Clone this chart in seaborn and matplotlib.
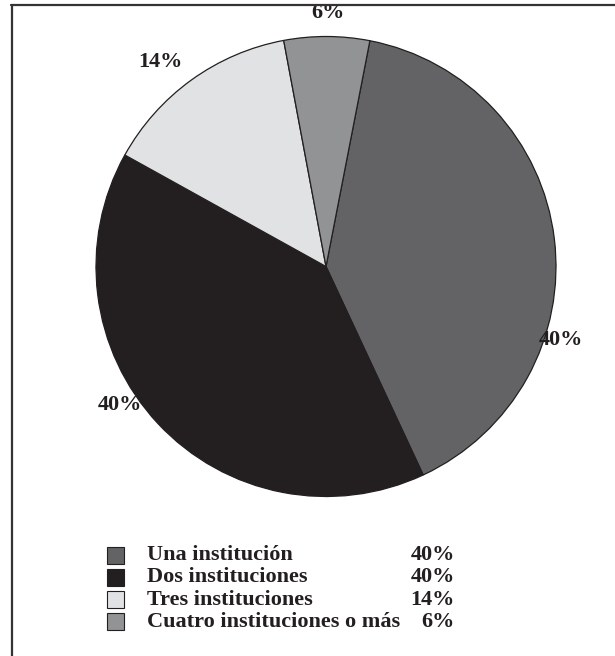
import matplotlib
matplotlib.use("Agg")
import matplotlib.pyplot as plt
import seaborn as sns
from matplotlib.patches import Rectangle
from matplotlib.lines import Line2D

sns.set_theme(style="white")
plt.rcParams['font.family'] = ['Liberation Serif', 'DejaVu Serif']

# Datos
categorias = ['Una institución', 'Dos instituciones', 'Tres instituciones',
              'Cuatro instituciones o más']
porcentajes = [40, 40, 14, 6]
colores = ['#636365', '#231f20', '#e1e2e3', '#929395']
# posiciones de las etiquetas de porcentaje (unidades del radio)
pos_etiquetas = [(1.02, -0.32), (-0.895, -0.60), (-0.72, 0.89), (0.01, 1.10)]

fig = plt.figure(figsize=(6.15, 6.56), dpi=100)
W, H = 615, 656

# marco (solo arriba e izquierda)
fig.add_artist(Line2D([11 / W, 1.0], [1 - 4.5 / H, 1 - 4.5 / H], color='#333333', lw=1.6))
fig.add_artist(Line2D([11.5 / W, 11.5 / W], [0.0, 1 - 4.5 / H], color='#333333', lw=1.6))

# pastel
cx, cy, r = 326, 266.5, 230
ax = fig.add_axes([(cx - r) / W, 1 - (cy + r) / H, 2 * r / W, 2 * r / H])
ax.pie(porcentajes, colors=colores, startangle=79, counterclock=False,
       wedgeprops=dict(edgecolor='#231f20', linewidth=0.9))
ax.set_xlim(-1, 1)
ax.set_ylim(-1, 1)
ax.set_aspect('auto')
ax.axis('off')

for p, (x, y) in zip(porcentajes, pos_etiquetas):
    ax.text(x, y, f'{p}%', ha='center', va='center', fontsize=16,
            fontweight='bold', color='#231f20', clip_on=False)

# leyenda
lax = fig.add_axes([0, 0, 1, 1])
lax.set_xlim(0, W)
lax.set_ylim(H, 0)
lax.axis('off')
fila0, paso = 555, 22.3
for i, (cat, p, c) in enumerate(zip(categorias, porcentajes, colores)):
    y = fila0 + i * paso
    lax.add_patch(Rectangle((107, y - 8.5), 17, 17, facecolor=c,
                            edgecolor='#231f20', linewidth=0.8))
    lax.text(147, y, cat, ha='left', va='center', fontsize=16,
             fontweight='bold', color='#231f20')
    lax.text(455, y, f'{p}%', ha='right', va='center', fontsize=16,
             fontweight='bold', color='#231f20')

fig.savefig('out.png', dpi=100)
